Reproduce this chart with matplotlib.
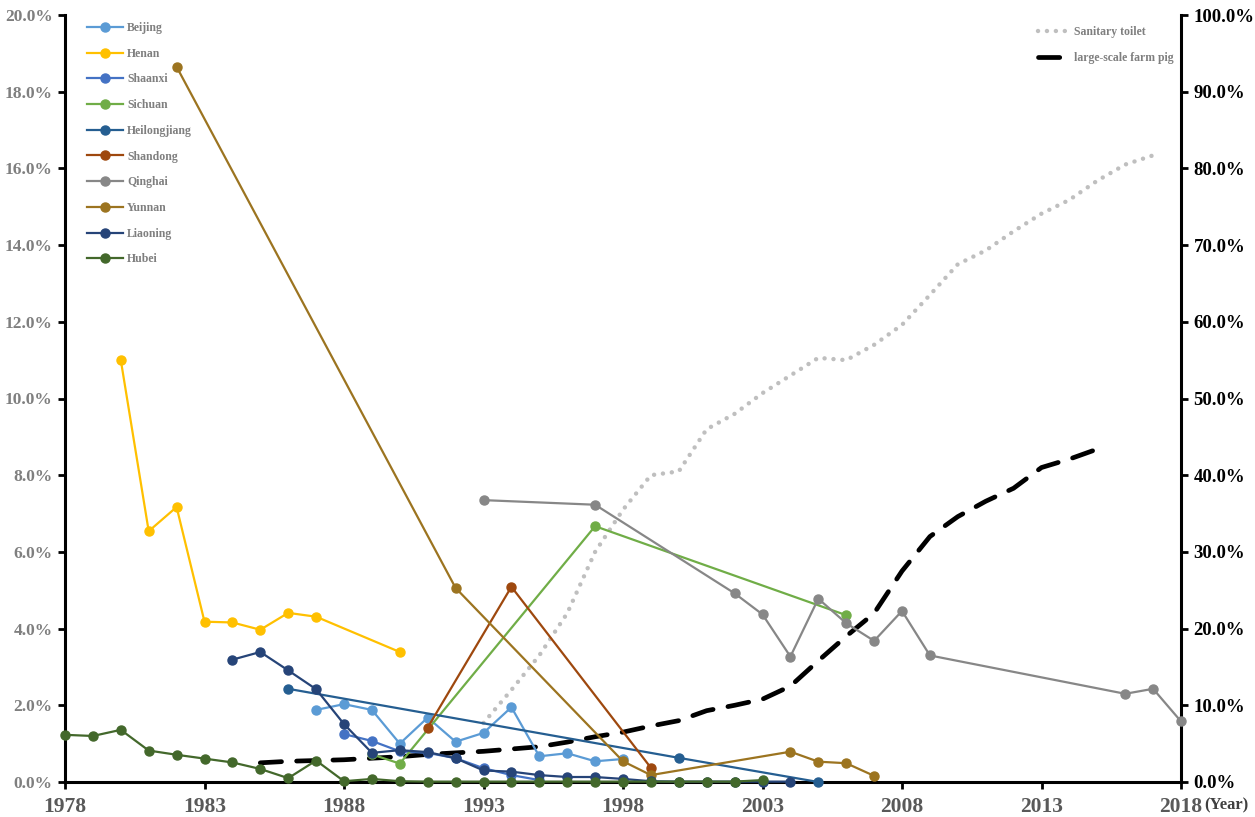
import matplotlib
matplotlib.use("Agg")
import matplotlib.pyplot as plt
from matplotlib.ticker import FuncFormatter, MultipleLocator

plt.rcParams['font.family'] = ['Liberation Serif', 'DejaVu Serif']
plt.rcParams['font.weight'] = 'bold'

# ---------------- data (left axis, %) ----------------
beijing_years = [1987, 1988, 1989, 1990, 1991, 1992, 1993, 1994, 1995, 1996, 1997, 1998]
beijing_vals = [1.88, 2.03, 1.88, 1.00, 1.68, 1.05, 1.28, 1.95, 0.67, 0.75, 0.54, 0.60]

henan_years = [1980, 1981, 1982, 1983, 1984, 1985, 1986, 1987, 1990]
henan_vals = [11.0, 6.54, 7.17, 4.18, 4.16, 3.97, 4.41, 4.31, 3.39]

shaanxi_years = [1988, 1989, 1990, 1991, 1992, 1993, 1994, 1995]
shaanxi_vals = [1.25, 1.07, 0.80, 0.76, 0.62, 0.36, 0.18, 0.05]

sichuan_years = [1989, 1990, 1997, 2006]
sichuan_vals = [0.72, 0.48, 6.67, 4.35]

heilongjiang_years = [1986, 2000, 2005]
heilongjiang_vals = [2.43, 0.63, 0.0]

shandong_years = [1991, 1994, 1999]
shandong_vals = [1.42, 5.09, 0.37]

qinghai_years = [1993, 1997, 2002, 2003, 2004, 2005, 2006, 2007, 2008, 2009, 2016, 2017, 2018]
qinghai_vals = [7.35, 7.23, 4.92, 4.37, 3.27, 4.78, 4.14, 3.68, 4.46, 3.30, 2.30, 2.43, 1.58]

yunnan_years = [1982, 1992, 1998, 1999, 2004, 2005, 2006, 2007]
yunnan_vals = [18.65, 5.06, 0.54, 0.18, 0.79, 0.53, 0.49, 0.16]

liaoning_years = [1984, 1985, 1986, 1987, 1988, 1989, 1990, 1991, 1992, 1993, 1994,
                  1995, 1996, 1997, 1998, 1999, 2000, 2001, 2002, 2003, 2004]
liaoning_vals = [3.19, 3.39, 2.91, 2.42, 1.51, 0.76, 0.83, 0.78, 0.62, 0.30, 0.27,
                 0.18, 0.13, 0.13, 0.08, 0.02, 0.01, 0.01, 0.01, 0.01, 0.01]

hubei_years = [1978, 1979, 1980, 1981, 1982, 1983, 1984, 1985, 1986, 1987, 1988, 1989,
               1990, 1991, 1992, 1993, 1994, 1995, 1996, 1997, 1998, 1999, 2000, 2001,
               2002, 2003]
hubei_vals = [1.23, 1.20, 1.36, 0.82, 0.71, 0.61, 0.51, 0.34, 0.10, 0.56, 0.02, 0.08,
              0.02, 0.01, 0.01, 0.01, 0.01, 0.01, 0.01, 0.01, 0.01, 0.01, 0.01, 0.01,
              0.01, 0.05]

# ---------------- data (right axis, %) ----------------
toilet_years = [1993, 1994, 1995, 1996, 1997, 1998, 1999, 2000, 2001, 2002, 2003, 2004,
                2005, 2006, 2007, 2008, 2009, 2010, 2011, 2012, 2013, 2014, 2015, 2016, 2017]
toilet_vals = [7.7, 12.0, 16.5, 22.0, 30.0, 35.5, 40.0, 40.5, 46.0, 48.0, 50.7, 53.0,
               55.3, 55.0, 57.0, 59.6, 63.5, 67.5, 69.3, 71.8, 74.1, 75.9, 78.4, 80.5, 81.7]

pig_years = [1985, 1986, 1987, 1988, 1989, 1990, 1991, 1992, 1993, 1994, 1995, 1996,
             1997, 1998, 1999, 2000, 2001, 2002, 2003, 2004, 2005, 2006, 2007, 2008,
             2009, 2010, 2011, 2012, 2013, 2014, 2015]
pig_vals = [2.5, 2.7, 2.8, 2.9, 3.1, 3.3, 3.6, 3.8, 4.0, 4.3, 4.6, 5.2,
            5.9, 6.5, 7.3, 8.0, 9.3, 10.0, 10.8, 12.5, 15.8, 19.0, 22.0, 27.5,
            32.0, 34.6, 36.6, 38.3, 41.0, 42.1, 43.4]

x_ticks = [1978, 1983, 1988, 1993, 1998, 2003, 2008, 2013, 2018]

series = [
    ("Beijing", beijing_years, beijing_vals, "#5B9BD5"),
    ("Henan", henan_years, henan_vals, "#FFC000"),
    ("Shaanxi", shaanxi_years, shaanxi_vals, "#4472C4"),
    ("Sichuan", sichuan_years, sichuan_vals, "#70AD47"),
    ("Heilongjiang", heilongjiang_years, heilongjiang_vals, "#255E91"),
    ("Shandong", shandong_years, shandong_vals, "#9E480E"),
    ("Qinghai", qinghai_years, qinghai_vals, "#878787"),
    ("Yunnan", yunnan_years, yunnan_vals, "#9C7420"),
    ("Liaoning", liaoning_years, liaoning_vals, "#264478"),
    ("Hubei", hubei_years, hubei_vals, "#43682B"),
]

W, H = 1255, 817
fig = plt.figure(figsize=(W / 100, H / 100), dpi=100)
ax = fig.add_axes([65 / W, 1 - 782 / H, (1181 - 65) / W, (782 - 15) / H])
ax2 = ax.twinx()

for name, xs, ys, c in series:
    ax.plot(xs, ys, color=c, lw=1.6, marker='o', ms=6.5, label=name, clip_on=False, zorder=3)

ax2.plot(toilet_years, toilet_vals, color="#BFBFBF", lw=3.2, linestyle=(0, (0.01, 2.0)),
         dash_capstyle='round', label="Sanitary toilet")
ax2.plot(pig_years, pig_vals, color="black", lw=3.4, linestyle=(0, (4.5, 3.2)),
         dash_capstyle='round', label="large-scale farm pig")

ax.set_xlim(1978, 2018)
ax.set_ylim(0, 20)
ax2.set_ylim(0, 100)
ax.set_xticks(x_ticks)
ax.set_xticklabels([str(t) for t in x_ticks])
ax.yaxis.set_major_locator(MultipleLocator(2))
ax2.yaxis.set_major_locator(MultipleLocator(10))
ax.yaxis.set_major_formatter(FuncFormatter(lambda v, p: f"{v:.1f}%"))
ax2.yaxis.set_major_formatter(FuncFormatter(lambda v, p: f"{v:.1f}%"))

for a in (ax, ax2):
    a.spines['top'].set_visible(False)
    for s in a.spines.values():
        s.set_linewidth(2.2)
        s.set_color('black')
ax.spines['right'].set_visible(False)
ax2.spines['left'].set_visible(False)
ax2.spines['bottom'].set_visible(False)

ax.tick_params(axis='y', direction='out', length=5, width=2, labelsize=12.5,
               labelcolor='#7F7F7F', pad=4)
ax.tick_params(axis='x', direction='out', length=5, width=2, labelsize=15.5,
               labelcolor='#595959', pad=6)
ax2.tick_params(axis='y', direction='out', length=5, width=2, labelsize=13.5,
                labelcolor='black', pad=4)
for lab in ax.get_xticklabels() + ax.get_yticklabels() + ax2.get_yticklabels():
    lab.set_fontweight('bold')

fig.text(1204 / W, 1 - 805 / H, "(Year)", fontsize=12, fontweight='bold',
         color='#404040', va='center', ha='left')

leg1 = ax.legend(loc='upper left', bbox_to_anchor=(15 / (1181 - 65), 1.0), frameon=False,
                 fontsize=8.5, labelspacing=1.16, handlelength=3.0, handletextpad=0.4,
                 borderaxespad=0.2)
for t in leg1.get_texts():
    t.set_color('#7F7F7F')
    t.set_fontweight('bold')

leg2 = ax2.legend(loc='upper right', bbox_to_anchor=(1.0, 0.995), frameon=False,
                  fontsize=8.5, labelspacing=1.2, handlelength=2.7, handletextpad=0.35,
                  borderaxespad=0.2)
for t in leg2.get_texts():
    t.set_color('#7F7F7F')
    t.set_fontweight('bold')

ax.set_zorder(ax2.get_zorder() + 1)
ax.patch.set_visible(False)

fig.savefig("out.png", dpi=100)
